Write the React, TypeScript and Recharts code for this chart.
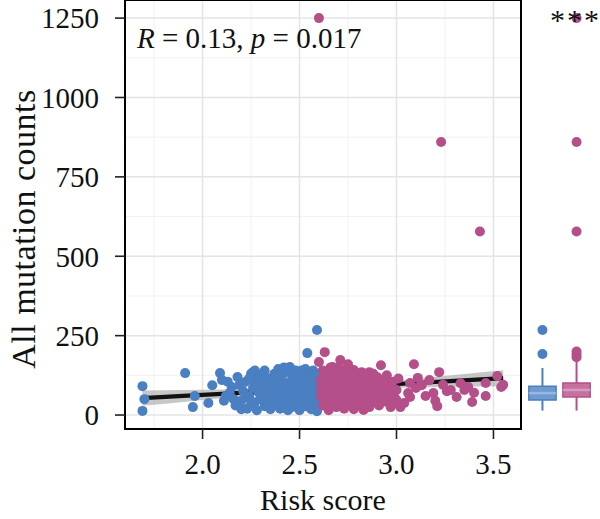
import React from "react";
import {
  ComposedChart,
  Scatter,
  Line,
  Area,
  XAxis,
  YAxis,
  CartesianGrid,
  ReferenceArea,
  ReferenceLine,
  ReferenceDot,
} from "recharts";

// risk score vs mutation count, low-risk group (blue)
const lowRisk: [number, number][] = [
  [1.69, 91], [1.7, 50], [1.69, 13], [1.91, 132], [1.95, 25], [1.96, 60],
  [2.03, 38], [2.05, 94], [2.09, 132], [2.1, 110], [2.11, 45], [2.12, 60],
  [2.13, 105], [2.14, 70], [2.15, 88], [2.16, 50], [2.17, 30], [2.18, 120],
  [2.19, 95], [2.2, 45], [2.2, 18], [2.21, 75], [2.22, 104], [2.23, 20],
  [2.24, 60], [2.25, 130], [2.26, 135], [2.26, 85], [2.27, 40], [2.28, 110],
  [2.28, 15], [2.29, 70], [2.3, 125], [2.3, 50], [2.31, 95], [2.32, 28],
  [2.32, 140], [2.33, 80], [2.34, 60], [2.34, 115], [2.35, 18], [2.35, 100],
  [2.36, 45], [2.37, 130], [2.37, 75], [2.38, 30], [2.38, 90], [2.39, 145],
  [2.39, 55], [2.4, 110], [2.4, 20], [2.41, 70], [2.41, 125], [2.42, 40],
  [2.42, 95], [2.43, 60], [2.43, 135], [2.44, 15], [2.44, 80], [2.45, 151],
  [2.45, 105], [2.45, 50], [2.46, 25], [2.46, 70], [2.47, 120], [2.47, 90],
  [2.48, 35], [2.48, 140], [2.49, 60], [2.49, 100], [2.5, 15], [2.5, 80],
  [2.51, 125], [2.51, 45], [2.52, 110], [2.52, 65], [2.53, 28], [2.53, 145],
  [2.54, 90], [2.54, 195], [2.55, 50], [2.55, 120], [2.56, 75], [2.56, 18],
  [2.57, 100], [2.57, 140], [2.58, 40], [2.58, 65], [2.59, 268], [2.59, 110],
  [2.59, 12], [2.6, 85], [2.6, 130],
  [2.22, 55], [2.24, 115], [2.25, 35], [2.27, 95], [2.29, 125], [2.31, 65],
  [2.33, 110], [2.36, 85], [2.38, 120], [2.4, 65], [2.42, 150], [2.43, 30],
  [2.44, 100], [2.46, 130], [2.47, 55], [2.49, 25], [2.5, 110], [2.51, 140],
  [2.52, 88], [2.53, 60], [2.55, 35], [2.56, 100], [2.57, 55], [2.58, 125],
  [2.59, 80], [2.6, 40], [2.27, 140], [2.34, 38], [2.41, 98], [2.48, 75],
];

// high-risk group (pink)
const highRisk: [number, number][] = [
  [2.6, 1250], [3.23, 860], [3.43, 578],
  [2.6, 167], [2.61, 60], [2.61, 110], [2.62, 30], [2.62, 140], [2.63, 198],
  [2.63, 85], [2.64, 50], [2.64, 120], [2.65, 15], [2.65, 95], [2.66, 70],
  [2.66, 150], [2.67, 151], [2.67, 40], [2.68, 105], [2.68, 130], [2.69, 25],
  [2.69, 80], [2.7, 60], [2.7, 115], [2.71, 173], [2.71, 45], [2.72, 95],
  [2.72, 140], [2.73, 20], [2.73, 70], [2.74, 125], [2.74, 50], [2.75, 100],
  [2.75, 85], [2.76, 35], [2.76, 145], [2.77, 65], [2.77, 110], [2.78, 142],
  [2.78, 18], [2.79, 90], [2.79, 55], [2.8, 120], [2.8, 75], [2.81, 30],
  [2.81, 105], [2.82, 135], [2.82, 60], [2.83, 16], [2.83, 85], [2.84, 115],
  [2.84, 45], [2.85, 95], [2.85, 70], [2.86, 135], [2.86, 25], [2.87, 110],
  [2.87, 55], [2.88, 80], [2.88, 130], [2.89, 40], [2.89, 100], [2.9, 65],
  [2.9, 120], [2.91, 30], [2.91, 90], [2.92, 157], [2.92, 75], [2.93, 50],
  [2.93, 110], [2.94, 85], [2.95, 41], [2.95, 125], [2.96, 60], [2.96, 95],
  [2.97, 25], [2.97, 80], [2.98, 105], [2.99, 55], [3.0, 79], [3.0, 47],
  [3.01, 115], [3.02, 25], [3.04, 38], [3.06, 69], [3.07, 101], [3.07, 57],
  [3.09, 160], [3.1, 85], [3.11, 117], [3.13, 94], [3.15, 60], [3.17, 110],
  [3.19, 69], [3.2, 45], [3.21, 28], [3.22, 135], [3.24, 95], [3.26, 75],
  [3.28, 79], [3.31, 57], [3.33, 100], [3.35, 79], [3.37, 88], [3.39, 41],
  [3.4, 70], [3.46, 60], [3.46, 101], [3.52, 123], [3.54, 88], [3.55, 95],
  [2.61, 85], [2.62, 100], [2.63, 40], [2.64, 70], [2.65, 130], [2.66, 25],
  [2.67, 90], [2.68, 55], [2.69, 120], [2.7, 35], [2.71, 100], [2.72, 65],
  [2.73, 115], [2.74, 85], [2.76, 95], [2.77, 40], [2.79, 125], [2.8, 50],
  [2.82, 100], [2.83, 130], [2.85, 35], [2.86, 90], [2.88, 60], [2.9, 100],
  [2.92, 40], [2.94, 115], [2.96, 75], [2.98, 35], [2.7, 150], [2.75, 160],
];

// linear fit and its confidence band
const fitX = [1.69, 1.9, 2.1, 2.3, 2.5, 2.6, 2.7, 2.9, 3.1, 3.3, 3.55];
const fitY = [53, 60.1, 66.9, 73.7, 80.5, 83.8, 87.2, 94, 100.8, 107.6, 116];
const bandLow = [29, 41.4, 53.1, 64.5, 74.9, 78.8, 81.6, 84.8, 87, 88.9, 91];
const bandHigh = [77, 78.8, 80.7, 82.9, 86.1, 88.8, 92.8, 103.2, 114.6, 126.3, 141];

// boxplot summary per group (1 = low, 2 = high)
const groups = [1, 2];
const boxQ1 = [47, 57];
const boxMedian = [69, 79];
const boxQ3 = [91, 101];
const whiskerLow = [14, 14];
const whiskerHigh = [148, 167];
const lowOutliers = [192, 268];
const highOutliers = [182, 191, 200, 578, 860, 1250];

const xTicks = [2.0, 2.5, 3.0, 3.5];
const xMinor = [1.75, 2.25, 2.75, 3.25];
const yTicks = [0, 250, 500, 750, 1000, 1250];
const yMinor = [125, 375, 625, 875, 1125];

const BLUE = "#4A7FC1";
const PINK = "#B44F8A";
const boxFill = ["#6F9AD0", "#C4729F"];
const boxLine = [BLUE, PINK];
const medLine = ["#98B7E0", "#D89BBD"];

const FONT = "'Liberation Serif', serif";
const Y_DOMAIN: [number, number] = [-44, 1307];

const lowData = lowRisk.map(([x, y]) => ({ x, y }));
const highData = highRisk.map(([x, y]) => ({ x, y }));
const fitData = fitX.map((x, i) => ({ x, y: fitY[i] }));
const bandData = fitX.map((x, i) => ({ x, band: [bandLow[i], bandHigh[i]] }));
const outlierLow = lowOutliers.map((y) => ({ g: 1, y }));
const outlierHigh = highOutliers.map((y) => ({ g: 2, y }));

const dot = (color: string) => (props: any) =>
  <circle cx={props.cx} cy={props.cy} r={5} fill={color} />;

const tickStyle = { fontFamily: FONT, fontSize: 29, fill: "#111" };

export default function App() {
  return (
    <div style={{ position: "absolute", left: 0, top: 0, width: 600, height: 519, background: "#fff" }}>
      <div style={{ position: "absolute", left: 0, top: 0 }}>
        <ComposedChart width={600} height={519} margin={{ top: 0, right: 79, left: 0, bottom: 0 }}>
          <CartesianGrid
            stroke="#EFEFEF"
            strokeWidth={0.9}
            verticalValues={xMinor}
            horizontalValues={yMinor}
          />
          <CartesianGrid
            stroke="#E4E4E4"
            strokeWidth={1.5}
            verticalValues={xTicks}
            horizontalValues={yTicks}
          />
          <XAxis
            type="number"
            dataKey="x"
            domain={[1.6, 3.642]}
            allowDataOverflow
            ticks={xTicks}
            tickFormatter={(v: number) => v.toFixed(1)}
            height={90}
            tickSize={10}
            tickMargin={14}
            axisLine={false}
            tickLine={{ stroke: "#222", strokeWidth: 1.6 }}
            tick={tickStyle}
            label={{
              value: "Risk score",
              position: "insideBottom",
              offset: 9,
              style: { fontFamily: FONT, fontSize: 30, fill: "#111" },
            }}
          />
          <YAxis
            type="number"
            dataKey="y"
            domain={Y_DOMAIN}
            allowDataOverflow
            ticks={yTicks}
            width={125}
            tickSize={10}
            tickMargin={16}
            axisLine={false}
            tickLine={{ stroke: "#222", strokeWidth: 1.6 }}
            tick={tickStyle}
          />
          <Scatter data={lowData} dataKey="y" shape={dot(BLUE)} isAnimationActive={false} />
          <Scatter data={highData} dataKey="y" shape={dot(PINK)} isAnimationActive={false} />
          <Area
            data={bandData}
            dataKey="band"
            type="monotone"
            stroke="none"
            fill="#999999"
            fillOpacity={0.55}
            isAnimationActive={false}
          />
          <Line
            data={fitData}
            dataKey="y"
            type="linear"
            stroke="#111"
            strokeWidth={4.2}
            dot={false}
            isAnimationActive={false}
          />
          <ReferenceArea
            x1={1.6}
            x2={3.642}
            y1={Y_DOMAIN[0]}
            y2={Y_DOMAIN[1]}
            fill="none"
            stroke="#000"
            strokeWidth={2}
            ifOverflow="visible"
          />
        </ComposedChart>
      </div>

      <div style={{ position: "absolute", left: 0, top: 0 }}>
        <ComposedChart width={600} height={519} margin={{ top: 0, right: 3, left: 522, bottom: 90 }}>
          <XAxis type="number" dataKey="g" domain={[0.4, 2.6]} hide />
          <YAxis type="number" dataKey="y" domain={Y_DOMAIN} allowDataOverflow hide />
          {groups.map((g, i) => (
            <ReferenceLine
              key={"wl" + g}
              segment={[{ x: g, y: whiskerLow[i] }, { x: g, y: boxQ1[i] }]}
              stroke={boxLine[i]}
              strokeWidth={2}
              ifOverflow="visible"
            />
          ))}
          {groups.map((g, i) => (
            <ReferenceLine
              key={"wh" + g}
              segment={[{ x: g, y: boxQ3[i] }, { x: g, y: whiskerHigh[i] }]}
              stroke={boxLine[i]}
              strokeWidth={2}
              ifOverflow="visible"
            />
          ))}
          {groups.map((g, i) => (
            <ReferenceArea
              key={"box" + g}
              x1={g - 0.4}
              x2={g + 0.4}
              y1={boxQ1[i]}
              y2={boxQ3[i]}
              fill={boxFill[i]}
              fillOpacity={1}
              stroke={boxLine[i]}
              strokeWidth={1.5}
              ifOverflow="visible"
            />
          ))}
          {groups.map((g, i) => (
            <ReferenceLine
              key={"med" + g}
              segment={[{ x: g - 0.4, y: boxMedian[i] }, { x: g + 0.4, y: boxMedian[i] }]}
              stroke={medLine[i]}
              strokeWidth={2.5}
              ifOverflow="visible"
            />
          ))}
          <Scatter data={outlierLow} dataKey="y" shape={dot(BLUE)} isAnimationActive={false} />
          <Scatter data={outlierHigh} dataKey="y" shape={dot(PINK)} isAnimationActive={false} />
          <ReferenceDot
            x={1.97}
            y={1245}
            r={0}
            ifOverflow="visible"
            label={{
              value: "***",
              position: "center",
              style: { fontFamily: FONT, fontSize: 30, fill: "#111", letterSpacing: 2 },
            }}
          />
        </ComposedChart>
      </div>

      <svg width={600} height={519} style={{ position: "absolute", left: 0, top: 0, pointerEvents: "none" }}>
        <text
          transform="translate(35,229) rotate(-90)"
          textAnchor="middle"
          fontFamily={FONT}
          fontSize={34}
          letterSpacing={0.5}
          fill="#111"
        >
          All mutation counts
        </text>
        <text x={137} y={48} fontFamily={FONT} fontSize={29} fill="#111">
          <tspan fontStyle="italic">R</tspan> = 0.13, <tspan fontStyle="italic">p</tspan> = 0.017
        </text>
      </svg>
    </div>
  );
}
